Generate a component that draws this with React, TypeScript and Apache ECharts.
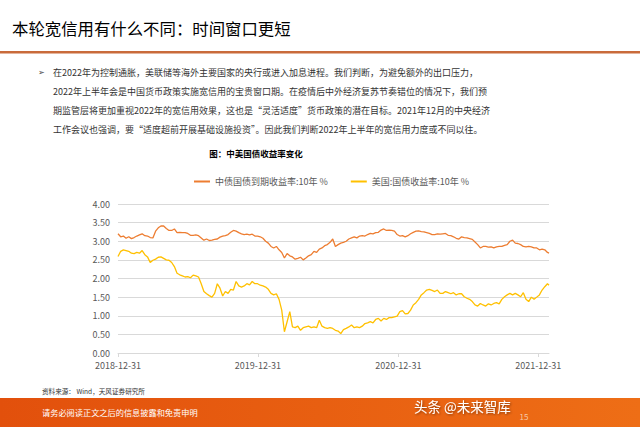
import React, { useEffect, useRef } from "react";
import * as echarts from "echarts";

const FONT = "'Noto Sans CJK SC', 'Noto Sans', sans-serif";

const startDateUTC = Date.UTC(2018, 11, 31);
const dayCount = 1125; // 2018-12-31 .. 2022-01-28
const weekStep = 7;

const tickLabels = ["2018-12-31", "2019-12-31", "2020-12-31", "2021-12-31"];
const yTicks = [0, 0.5, 1, 1.5, 2, 2.5, 3, 3.5, 4];

const seriesNames = ["中债国债到期收益率:10年 %", "美国:国债收益率:10年 %"];

// weekly readings, starting 2018-12-31, last value at 2022-01-28
const chinaYield = [
  3.2, 3.12, 3.14, 3.08, 3.12, 3.07, 3.1, 3.14, 3.17, 3.2,
  3.15, 3.14, 3.1, 3.09, 3.27, 3.36, 3.41, 3.41, 3.34, 3.29,
  3.29, 3.33, 3.23, 3.24, 3.23, 3.23, 3.21, 3.16, 3.16, 3.17,
  3.15, 3.09, 3.03, 3.06, 3.02, 3.03, 3.05, 3.06, 3.11,
  3.14, 3.15, 3.18, 3.24, 3.29, 3.27, 3.23, 3.2, 3.18, 3.19, 3.17,
  3.19, 3.14, 3.14, 3.12, 3.08, 3.0, 2.95, 2.86, 2.82, 2.86,
  2.77, 2.7, 2.55, 2.67, 2.61, 2.58, 2.52, 2.54, 2.57, 2.5,
  2.55, 2.61, 2.64, 2.73, 2.7, 2.79, 2.82, 2.88, 2.91, 2.97,
  3.06, 2.86, 2.91, 2.95, 2.97, 3.0, 3.06, 3.09, 3.12, 3.09,
  3.14, 3.15, 3.14, 3.18, 3.21, 3.2, 3.23, 3.24, 3.3, 3.33,
  3.29, 3.3, 3.29, 3.27, 3.18, 3.14, 3.15, 3.12, 3.15, 3.2,
  3.24, 3.27, 3.28, 3.26, 3.25, 3.23, 3.21, 3.18, 3.18, 3.2,
  3.19, 3.2, 3.21, 3.16, 3.15, 3.12, 3.08, 3.06, 3.12, 3.1,
  3.09, 3.07, 3.05, 2.98, 2.91, 2.82, 2.86, 2.86, 2.84, 2.85,
  2.82, 2.85, 2.86, 2.86, 2.89, 2.91, 3.0, 3.03, 2.95, 2.94,
  2.91, 2.86, 2.85, 2.86, 2.85, 2.82, 2.82, 2.77, 2.79, 2.77, 2.7,
  2.68,
];

const usYield = [
  2.59, 2.73, 2.77, 2.75, 2.73, 2.68, 2.67, 2.7, 2.68, 2.75,
  2.64, 2.58, 2.43, 2.49, 2.52, 2.57, 2.58, 2.54, 2.5, 2.49,
  2.43, 2.32, 2.14, 2.1, 2.07, 2.04, 2.05, 2.02, 2.09, 2.07,
  2.04, 1.86, 1.65, 1.59, 1.54, 1.5, 1.6, 1.86, 1.74,
  1.53, 1.65, 1.6, 1.71, 1.69, 1.92, 1.8, 1.77, 1.8, 1.86, 1.83,
  1.92, 1.86, 1.86, 1.82, 1.8, 1.77, 1.71, 1.6, 1.56, 1.59,
  1.44, 1.15, 0.57, 0.84, 1.11, 0.7, 0.68, 0.72, 0.61, 0.68,
  0.7, 0.72, 0.68, 0.7, 0.68, 0.88, 0.72, 0.68, 0.66, 0.68,
  0.66, 0.61, 0.59, 0.52, 0.63, 0.66, 0.7, 0.75, 0.68, 0.7,
  0.68, 0.72, 0.79, 0.81, 0.84, 0.81, 0.9, 0.93, 0.86, 0.93,
  0.9, 0.95, 0.95, 0.97, 0.99, 1.11, 1.14, 1.05, 1.06, 1.15,
  1.29, 1.35, 1.44, 1.56, 1.62, 1.69, 1.71, 1.68, 1.65, 1.69,
  1.6, 1.6, 1.65, 1.62, 1.59, 1.62, 1.56, 1.59, 1.59, 1.51,
  1.47, 1.44, 1.38, 1.29, 1.26, 1.33, 1.29, 1.26, 1.32, 1.29,
  1.33, 1.35, 1.32, 1.44, 1.51, 1.56, 1.6, 1.56, 1.6, 1.56,
  1.51, 1.62, 1.44, 1.38, 1.5, 1.44, 1.5, 1.56, 1.69, 1.78, 1.86,
  1.82,
];

const titleText = "本轮宽信用有什么不同：时间窗口更短";
const paragraphLines = [
  "在2022年为控制通胀，美联储等海外主要国家的央行或进入加息进程。我们判断，为避免额外的出口压力，",
  "2022年上半年会是中国货币政策实施宽信用的宝贵窗口期。在疫情后中外经济复苏节奏错位的情况下，我们预",
  "期监管层将更加重视2022年的宽信用效果，这也是“灵活适度”货币政策的潜在目标。2021年12月的中央经济",
  "工作会议也强调，要“适度超前开展基础设施投资”。因此我们判断2022年上半年的宽信用力度或不同以往。",
];
const chartTitle = "图：中美国债收益率变化";
const sourceText = "资料来源： Wind，天风证券研究所";
const footerText = "请务必阅读正文之后的信息披露和免责申明";
const watermarkText = "头条 @未来智库";
const pageNumber = "15";

function fmtDate(ms: number): string {
  const d = new Date(ms);
  const m = String(d.getUTCMonth() + 1).padStart(2, "0");
  const dd = String(d.getUTCDate()).padStart(2, "0");
  return `${d.getUTCFullYear()}-${m}-${dd}`;
}

export default function App() {
  const ref = useRef<HTMLDivElement>(null);

  useEffect(() => {
    document.body.style.margin = "0";
    if (!ref.current) return;
    const chart = echarts.init(ref.current, undefined, { renderer: "svg" });

    const categories = Array.from({ length: dayCount }, (_, i) =>
      fmtDate(startDateUTC + i * 86400000)
    );
    const toPoints = (arr: number[]) =>
      arr.map((v, i) => [Math.min(i * weekStep, dayCount - 1), v]);
    const showTick = (_idx: number, value: string) => tickLabels.includes(value);

    const paraGraphics = paragraphLines.map((line, i) => ({
      type: "text",
      style: {
        text: line,
        x: 53,
        y: 72 + i * 19,
        font: `9px ${FONT}`,
        fill: "#333333",
        textVerticalAlign: "middle",
      },
    }));

    chart.setOption({
      animation: false,
      backgroundColor: "#ffffff",
      textStyle: { fontFamily: FONT },
      grid: { left: 118, right: 91, top: 204, bottom: 74, containLabel: false },
      legend: {
        data: seriesNames,
        left: 189,
        top: 172,
        icon: "rect",
        itemWidth: 16,
        itemHeight: 2,
        itemGap: 23,
        textStyle: { fontSize: 9, color: "#595959", fontFamily: FONT },
      },
      xAxis: {
        type: "category",
        data: categories,
        boundaryGap: false,
        axisLine: { lineStyle: { color: "#d9d9d9", width: 1 } },
        axisTick: {
          show: true,
          interval: showTick,
          length: 4,
          lineStyle: { color: "#d9d9d9" },
        },
        axisLabel: {
          interval: showTick,
          color: "#595959",
          fontSize: 9,
          margin: 7.5,
          fontFamily: FONT,
        },
        splitLine: { show: false },
      },
      yAxis: {
        type: "value",
        min: yTicks[0],
        max: yTicks[yTicks.length - 1],
        interval: 0.5,
        axisLine: { show: false },
        axisTick: { show: false },
        axisLabel: {
          formatter: (v: number) => v.toFixed(2),
          color: "#595959",
          fontSize: 9,
          margin: 8,
          fontFamily: FONT,
        },
        splitLine: { lineStyle: { color: "#d9d9d9", width: 1 } },
      },
      series: [
        {
          name: seriesNames[0],
          type: "line",
          data: toPoints(chinaYield),
          symbol: "none",
          lineStyle: { color: "#ED7D31", width: 1.3 },
          itemStyle: { color: "#ED7D31" },
        },
        {
          name: seriesNames[1],
          type: "line",
          data: toPoints(usYield),
          symbol: "none",
          lineStyle: { color: "#FFC000", width: 1.3 },
          itemStyle: { color: "#FFC000" },
        },
      ],
      graphic: [
        {
          type: "text",
          style: {
            text: titleText,
            x: 12,
            y: 28,
            font: `16.4px ${FONT}`,
            fill: "#000000",
            textVerticalAlign: "middle",
          },
        },
        {
          type: "rect",
          shape: { x: 0, y: 51, width: 640, height: 2.5 },
          style: { fill: "#C96B3B" },
        },
        {
          type: "text",
          style: {
            text: "➢",
            x: 38,
            y: 72,
            font: `8px 'DejaVu Sans', sans-serif`,
            fill: "#444444",
            textVerticalAlign: "middle",
          },
        },
        ...paraGraphics,
        {
          type: "text",
          style: {
            text: chartTitle,
            x: 256,
            y: 153,
            font: `bold 8.5px ${FONT}`,
            fill: "#000000",
            textAlign: "center",
            textVerticalAlign: "middle",
          },
        },
        {
          type: "text",
          style: {
            text: sourceText,
            x: 42,
            y: 391,
            font: `6.6px ${FONT}`,
            fill: "#333333",
            textVerticalAlign: "middle",
          },
        },
        {
          type: "rect",
          shape: { x: 0, y: 398, width: 640, height: 29 },
          style: {
            fill: {
              type: "linear",
              x: 0,
              y: 0,
              x2: 1,
              y2: 0,
              colorStops: [
                { offset: 0, color: "#E2500C" },
                { offset: 1, color: "#EE6E16" },
              ],
            },
          },
        },
        {
          type: "text",
          style: {
            text: footerText,
            x: 42,
            y: 412,
            font: `8.2px ${FONT}`,
            fill: "#ffffff",
            textVerticalAlign: "middle",
          },
        },
        {
          type: "text",
          style: {
            text: pageNumber,
            x: 524,
            y: 416,
            font: `8px ${FONT}`,
            fill: "#F7C9A8",
            textAlign: "center",
            textVerticalAlign: "middle",
          },
        },
        {
          type: "text",
          style: {
            text: watermarkText,
            x: 414,
            y: 406,
            font: `13.5px ${FONT}`,
            fill: "#ffffff",
            textVerticalAlign: "middle",
            textShadowColor: "rgba(0,0,0,0.45)",
            textShadowBlur: 2,
            textShadowOffsetX: 1,
            textShadowOffsetY: 1,
          },
        },
      ],
    });

    return () => chart.dispose();
  }, []);

  return <div ref={ref} style={{ width: 640, height: 427 }} />;
}
